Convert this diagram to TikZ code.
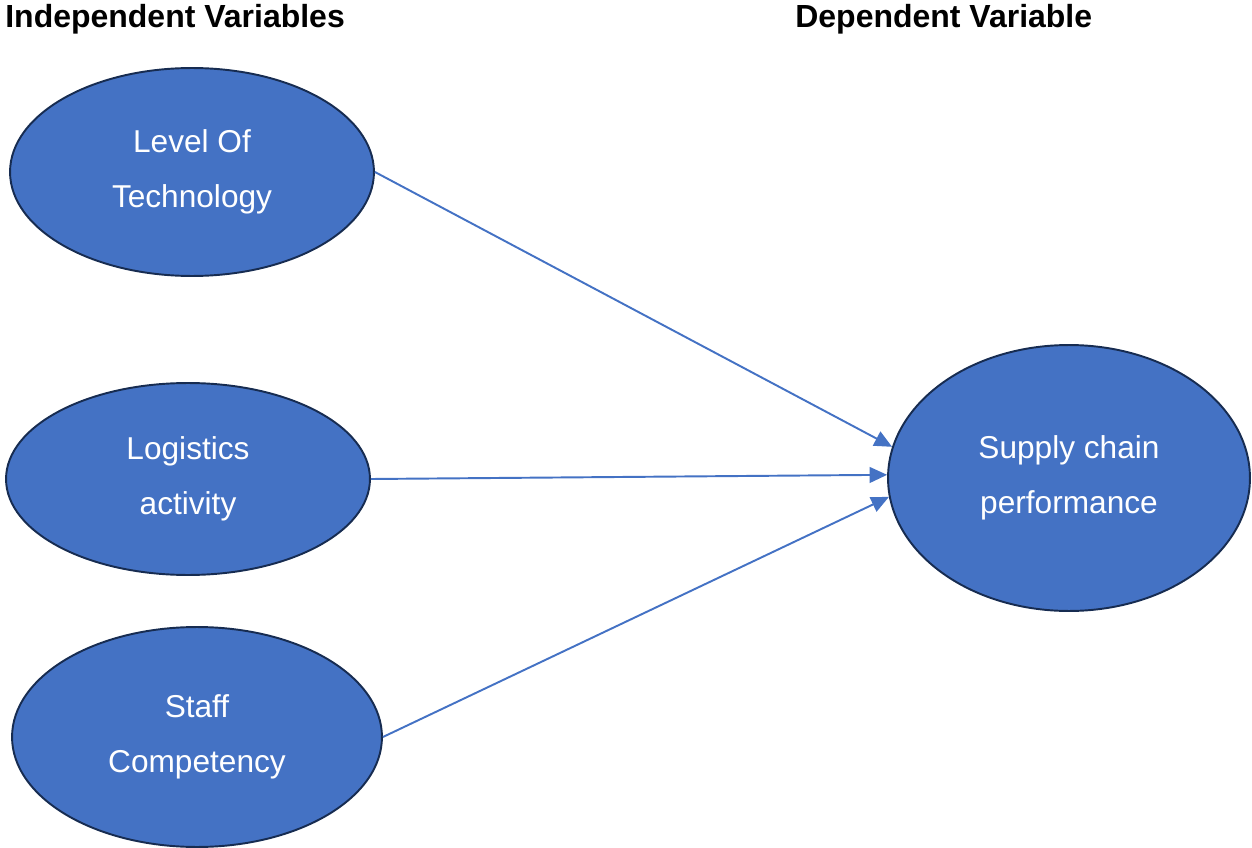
\documentclass[tikz,border=0pt]{standalone}
\usepackage{fontspec}
\setmainfont{Liberation Sans}
\usetikzlibrary{shapes.geometric, arrows.meta}

\definecolor{varfill}{HTML}{4472C4}
\definecolor{varline}{HTML}{172C51}

\tikzset{
    varnode/.style={ellipse, draw=varline, line width=1.1pt, fill=varfill,
        text=white, align=center, inner sep=0pt,
        font=\fontsize{18}{31}\selectfont},
    link/.style={draw=varfill, line width=1.1pt,
        -{Triangle[length=10pt, width=9pt]}},
    header/.style={font=\fontsize{18.2}{22}\selectfont\bfseries, inner sep=0pt}
}

\begin{document}
\begin{tikzpicture}[x=0.02cm, y=-0.02cm]
\useasboundingbox (0,0) rectangle (1252,848);

% Headers
\node[header, anchor=base west] (indep) at (5,28) {Independent Variables};
\node[header, anchor=base west] (dep) at (795,28) {Dependent Variable};

% Independent variables
\node[varnode, minimum width=7.28cm, minimum height=4.16cm] (tech) at (192,172) {Level Of\\Technology};
\node[varnode, minimum width=7.28cm, minimum height=3.84cm] (logi) at (188,479) {Logistics\\activity};
\node[varnode, minimum width=7.4cm, minimum height=4.4cm] (staff) at (197,737) {Staff\\Competency};

% Dependent variable
\node[varnode, minimum width=7.24cm, minimum height=5.32cm] (perf) at (1069,478) {Supply chain\\performance};

% Links
\draw[link] (tech.east) -- (perf.170);
\draw[link] (logi.east) -- (perf.179);
\draw[link] (staff.east) -- (perf.186);
\end{tikzpicture}
\end{document}
